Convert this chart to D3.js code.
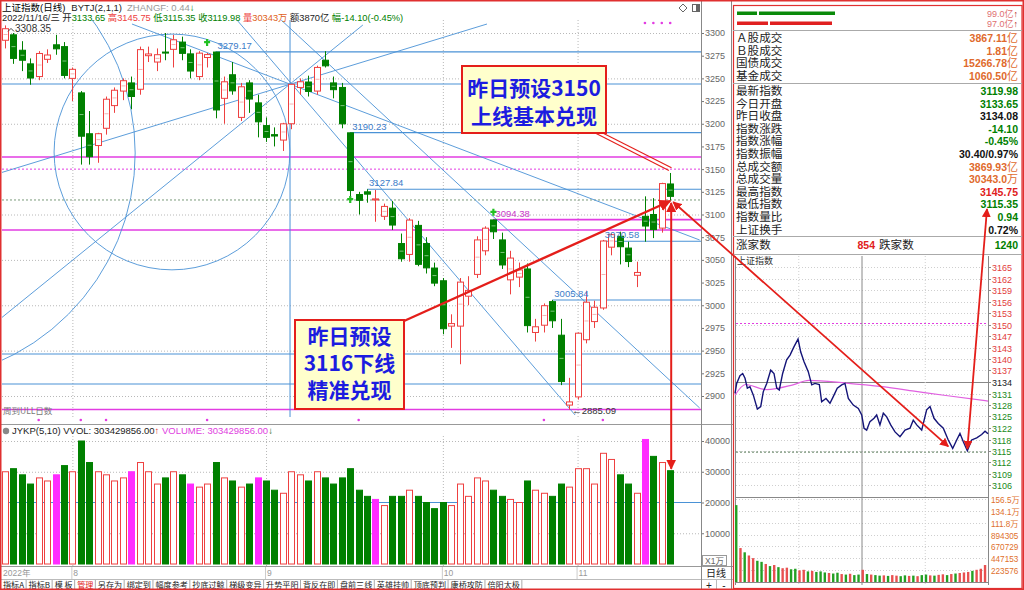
<!DOCTYPE html>
<html><head><meta charset="utf-8">
<script src="https://cdn.jsdelivr.net/npm/d3@7/dist/d3.min.js"></script>
<style>
html,body{margin:0;padding:0;background:#fff;overflow:hidden;}
svg{display:block;font-family:"Liberation Sans","Noto Sans CJK SC",sans-serif;}
</style></head><body>
<svg id="c" width="1024" height="590"></svg>
<script>
// ---------------- DATA ----------------
const dates = ["07-20","07-21","07-22","07-25","07-26","07-27","07-28","07-29",
"08-01","08-02","08-03","08-04","08-05","08-08","08-09","08-10","08-11","08-12","08-15","08-16","08-17","08-18","08-19","08-22","08-23","08-24","08-25","08-26","08-29","08-30","08-31",
"09-01","09-02","09-05","09-06","09-07","09-08","09-09","09-13","09-14","09-15","09-16","09-19","09-20","09-21","09-22","09-23","09-26","09-27","09-28","09-29","09-30",
"10-10","10-11","10-12","10-13","10-14","10-17","10-18","10-19","10-20","10-21","10-24","10-25","10-26","10-27","10-28","10-31",
"11-01","11-02","11-03","11-04","11-07","11-08","11-09","11-10","11-11","11-14","11-15","11-16"];
const opens = [3292,3298,3281,3266,3252,3271,3287,3285,
3250,3234,3189,3176,3195,3220,3236,3245,3238,3275,3268,3279,3282,3290,3277,3252,3273,3279,3228,3254,3207,3245,3223,
3198,3188,3182,3200,3240,3246,3236,3270,3245,3240,3190,3122,3125,3116,3098,3107,3068,3056,3088,3068,3041,
3027,2977,2977,3010,3034,3060,3094,3072,3028,3031,3040,2970,2978,3004,2967,2890,
2899,2962,2982,2997,3064,3076,3063,3033,3098,3100,3085,3133.65];
const highs = [3308.35,3300,3291,3272,3280,3282,3298,3290,
3262,3236,3214,3190,3230,3240,3250,3252,3285,3285,3283,3300,3298,3296,3282,3280,3278,3279.17,3252,3268,3245,3248,3232,
3207,3196,3201,3244,3250,3253,3264,3280,3252,3245,3190.23,3125,3127.84,3127,3112,3115,3079,3096,3093,3075,3047,
3030,2990,3030,3032,3076,3087,3094.38,3080,3060,3047,3046,2985,3002,3005.84,2985,2920,
2970,3016,3005,3072,3079,3081,3070,3048,3120,3118,3135,3145.75];
const lows = [3283,3266,3258,3243,3248,3267,3276,3250,
3225,3155,3155,3157,3188,3212,3226,3216,3232,3268,3258,3270,3262,3270,3250,3248,3262,3206,3200,3232,3203,3212,3185,
3180,3175,3170,3194,3232,3230,3232,3262,3228,3195,3120,3100,3113,3092,3094,3083,3048,3048,3043,3035,3021,
2968,2953,2935,3000,3030,3055,3073,3040,3012,3020,2970,2960,2970,2975,2912,2885.09,
2896,2958,2975,2995,3055,3045,3042,3020,3070,3074,3080,3115.35];
const closes = [3304.72,3272.00,3269.97,3250.39,3277.44,3275.76,3282.58,3253.24,
3259.96,3186.27,3163.67,3189.04,3227.03,3236.93,3247.43,3230.02,3281.67,3276.89,3276.09,3277.88,3292.53,3277.54,3258.08,3277.79,3276.22,3215.20,3246.25,3236.22,3240.73,3227.22,3202.14,
3184.98,3186.48,3199.91,3243.45,3246.29,3235.59,3262.05,3263.80,3237.54,3199.92,3126.40,3115.60,3122.41,3117.18,3108.91,3088.37,3051.23,3093.86,3045.07,3041.20,3024.39,
2974.15,2979.79,3025.51,3016.36,3071.99,3084.94,3080.96,3044.39,3052.00,3038.93,2977.56,2976.28,2999.50,2982.90,2915.93,2893.48,
2969.20,3003.37,2997.81,3070.80,3077.82,3064.49,3048.17,3036.13,3087.29,3083.40,3134.08,3119.98];
const volumes = [30000,31000,29000,26000,28000,27000,29000,32000,
30000,40000,33000,30000,29000,27000,28000,30000,33000,30000,26000,28000,30000,29000,26000,25000,26000,33000,28000,27000,25000,26000,28000,
27000,24000,23000,30000,29000,27000,30000,28000,26000,28000,31000,24000,22000,21000,19000,22000,22000,24000,22000,20000,18000,
20000,19000,26000,22000,28000,27000,24000,22000,21000,20000,27000,24000,23000,22000,26000,25000,
31000,31000,26000,36000,34000,29000,26000,23000,40500,35000,33000,30343];
const volSpecial = [6,15,22,30,44,76];           // magenta volume bars
const sigBottom = [4,9,12,24,42,64,71];          // pink signal dots under the chart
const sigTop = [76,77,78,79];
const priceTicks = [3300,3275,3250,3225,3200,3175,3150,3125,3100,3075,3050,3025,3000,2975,2950,2925,2900];
const gridTicks = [3300,3250,3200,3100,3050,3000,2950,2900];
const volTicks = [40000,30000,20000,10000];
const months = ["8","9","10","11"];
const monthStart = ["08-01","09-01","10-10","11-01"];
// drawn horizontal levels [start index, price]
const blueLevels = [[25,3279.17],[-1,3243.8],[41,3190.23],[43,3127.84],[71,3070.58],[65,3005.84],[-1,2946.3],[-1,2913.2]];
const magentaLevels = [[-1,3163.4],[58,3094.38],[-1,3082.9],[-1,2885.09]];
const presetUpper = 3150, presetLower = 3116;
// trend lines [i1,p1,i2,p2]
const trendLines = [[15.08,3309.9,82.5,3071.9],[-0.6,3145.7,57.24,3309.9],[-0.6,2984.8,42.5,3308.8],
                    [27.55,3314.3,67.7,2879.1],[32.8,3314.3,82.5,2886.8]];
const vLineIdx = 33.85;
const circles = [[19.83,3168.9,14.0],[-11.64,3167.8,27.1]]; // [idx, price, radius in bars]
const peakLabels = [[25,"3279.17",3279.17,"#3c7cc8"],[41,"3190.23",3190.23,"#3c7cc8"],[43,"3127.84",3127.84,"#3c7cc8"],
                    [58,"3094.38",3094.38,"#c838c8"],[71,"3070.58",3070.58,"#3c7cc8"],[65,"3005.84",3005.84,"#3c7cc8"]];
const greenMarks = [[24,3290],[41,3117],[58,3103]];
// right panel
const flowVals = ["99.0亿","97.0亿"];
const turnLabels = ["Ａ股成交","Ｂ股成交","国债成交","基金成交"];
const turnVals = ["3867.11","1.81","15266.78","1060.50"];
const tblLabels = ["最新指数","今日开盘","昨日收盘","指数涨跌","指数涨幅","指数振幅","总成交额","总成交量","最高指数","最低指数","指数量比","上证换手"];
const tblVals = ["3119.98","3133.65","3134.08","-14.10","-0.45%","30.40/0.97%","3869.93","30343.0","3145.75","3115.35","0.94","0.72%"];
const tblUnits = ["","","","","","","亿","万","","","",""];
const tblTone = ["g","g","k","g","g","k","o","o","r","g","g","k"];
const upCount = 854, downCount = 1240;
const prevClose = 3134.08;
const intraTickLabels = ["3165","3162","3159","3156","3153","3150","3147","3143","3140","3137","3134","3131","3128","3125","3122","3118","3115","3112","3109","3106"];
const intraVolLabels = ["156.5万","134.1万","111.8万","894305","670729","447153","223576"];
const intraMin = [0,1.6,4.7,7.3,9.5,11.7,14.2,17.4,21.2,24.4,26.8,30.1,33.9,37,39.6,42,45.2,49,52.2,56,59.8,62.3,65.5,69.5,72.8,75.9,80,82.2,86.3,90.1,93.2,97,101.2,104.3,107.5,112.2,117,120.2,122.4,124.9,128,131.9,134.4,137.5,140.7,143.9,147.7,151.8,156.5,161.3,166,169.1,172.4,177.1,181.8,185,188.8,192.8,197.6,202.3,206.5,210.3,213.4,216.6,220.4,224.5,229.3,234,237.2,240];
const intraPrice = [3131,3133.7,3135.8,3136.4,3135.1,3132.4,3132.8,3130.5,3126.7,3127.4,3131.4,3133.7,3137.3,3136.4,3132.4,3131.9,3136.4,3140.1,3141.4,3143.7,3145.75,3142.3,3139.6,3136.9,3133.3,3133.7,3133.4,3128.7,3129.6,3128.3,3130.1,3132.4,3133.3,3133.7,3129.6,3127.8,3126.9,3125.1,3121.5,3121,3123.3,3124.2,3125.1,3122.4,3125.6,3124.6,3122.4,3120.5,3119.2,3121,3121.5,3123.7,3122.4,3121,3126.5,3127.4,3124.2,3122.8,3121.5,3118.3,3116,3118.3,3120.1,3117.8,3115.35,3118.3,3118.9,3119.8,3120.7,3119.98];
const avgMin = [0,10,30,55,70,105,140,170,200,240];
const avgPrice = [3130.5,3133.4,3132.0,3133.3,3134.5,3133.8,3132.8,3131.6,3130.4,3128.9];
const intraVol = [1450000,640000,560000,500000,450000,400000,380000,340000,300000,320000,280000,260000,270000,240000,250000,220000,230000,200000,210000,190000,200000,180000,170000,160000,175000,150000,140000,155000,130000,140000,230000,150000,140000,130000,120000,125000,115000,130000,120000,110000,125000,115000,120000,110000,130000,140000,125000,120000,135000,145000,130000,150000,160000,170000,180000,190000,210000,230000,250000,320000];
const intraVolUp = [0,1,0,1,1,0,0,1,0,1,0,1,1,0,0,1,1,0,1,0,0,0,1,0,0,1,0,1,0,0,1,0,1,0,0,1,0,1,1,0,0,1,0,1,0,0,1,0,1,1,0,1,0,1,1,1,0,1,1,1];
const toolbar = ["指标A","指标B","模 板","管理","另存为","绑定到","幅度参考","抄底过鲸","梯级变异","升势平阳","背反在即","盘前三线","英雄挂帅","顶底预判","康桥攻防","倍阳太极"];

// ---------------- DRAW ----------------
const RED='#ee4040', GREEN='#008000', BLUE='#4a92d6', MAG='#e23ce2', ARED='#e41e1a';
const CJK='"Noto Sans CJK SC",sans-serif';
const svg=d3.select('#c');
const defs=svg.append('defs');
defs.append('clipPath').attr('id','mc').append('rect').attr('x',2).attr('y',20).attr('width',699).attr('height',397);
defs.append('clipPath').attr('id','vc').append('rect').attr('x',2).attr('y',436).attr('width',699).attr('height',130);
defs.append('marker').attr('id','arr').attr('viewBox','0 0 10 10').attr('refX',9).attr('refY',5)
  .attr('markerWidth',5).attr('markerHeight',5).attr('orient','auto-start-reverse')
  .append('path').attr('d','M0,0L10,5L0,10z').attr('fill',ARED);

const n=dates.length;
const x=d3.scaleLinear().domain([0,n-1]).range([5,670.2]);
const y=d3.scaleLinear().domain([2900,3300]).range([396,33]);
const vy=d3.scaleLinear().domain([0,40000]).range([564,441]);

svg.append('rect').attr('width',1024).attr('height',590).attr('fill','#fff');

// ---- main panel grid
const gm=svg.append('g').attr('clip-path','url(#mc)');
gm.selectAll('.gh').data(gridTicks).join('line').attr('x1',2).attr('x2',701)
  .attr('y1',d=>y(d)+0.5).attr('y2',d=>y(d)+0.5).attr('stroke','#b8b8b8').attr('stroke-dasharray','1,2');
const mIdx=monthStart.map(m=>dates.indexOf(m));
gm.selectAll('.gv').data(mIdx).join('line').attr('x1',d=>x(d)+0.5).attr('x2',d=>x(d)+0.5)
  .attr('y1',20).attr('y2',417).attr('stroke','#b8b8b8').attr('stroke-dasharray','1,2');

gm.append('line').attr('x1',2).attr('x2',701).attr('y1',y(presetUpper)).attr('y2',y(presetUpper))
  .attr('stroke',MAG).attr('stroke-dasharray','2,2');
gm.append('line').attr('x1',2).attr('x2',701).attr('y1',y(presetLower)).attr('y2',y(presetLower))
  .attr('stroke','#7a9a7a').attr('stroke-dasharray','2,2');

gm.selectAll('.bl').data(blueLevels).join('line').attr('x1',d=>d[0]<0?2:x(d[0])).attr('x2',701)
  .attr('y1',d=>y(d[1])).attr('y2',d=>y(d[1])).attr('stroke',BLUE).attr('stroke-width',1.1);
gm.selectAll('.ml').data(magentaLevels).join('line').attr('x1',d=>d[0]<0?2:x(d[0])).attr('x2',701)
  .attr('y1',d=>y(d[1])).attr('y2',d=>y(d[1])).attr('stroke',MAG).attr('stroke-width',1.6);

gm.selectAll('.tl').data(trendLines).join('line').attr('x1',d=>x(d[0])).attr('y1',d=>y(d[1]))
  .attr('x2',d=>x(d[2])).attr('y2',d=>y(d[3])).attr('stroke',BLUE).attr('stroke-width',0.9);
gm.append('line').attr('x1',x(vLineIdx)).attr('x2',x(vLineIdx)).attr('y1',20).attr('y2',417).attr('stroke',BLUE).attr('stroke-width',1);
const step=x(1)-x(0);
gm.selectAll('.ci').data(circles).join('circle').attr('cx',d=>x(d[0])).attr('cy',d=>y(d[1]))
  .attr('r',d=>d[2]*step).attr('fill','none').attr('stroke',BLUE).attr('stroke-width',0.9);

// candles
const cw=6;
const cg=gm.append('g');
dates.forEach((d,i)=>{
  const o=opens[i],c=closes[i],h=highs[i],l=lows[i];
  const up=c>=o, col=up?RED:GREEN, cx=Math.round(x(i))+0.5;
  cg.append('line').attr('x1',cx).attr('x2',cx).attr('y1',y(h)).attr('y2',y(l)).attr('stroke',col).attr('stroke-width',1);
  const top=y(Math.max(o,c)), bh=Math.max(1,Math.abs(y(o)-y(c)));
  cg.append('rect').attr('x',cx-cw/2).attr('y',top).attr('width',cw).attr('height',bh)
    .attr('fill',up?'#fff':GREEN).attr('stroke',col).attr('stroke-width',1);
  if(bh>6) cg.append('line').attr('x1',cx-2).attr('x2',cx+2).attr('y1',top+bh/2).attr('y2',top+bh/2)
    .attr('stroke',up?'#f6b4b4':'#7cc47c').attr('stroke-width',1);
});

// labels
const lg=svg.append('g').attr('font-size',9.5);
peakLabels.forEach(p=>{
  lg.append('text').attr('x',x(p[0])+2).attr('y',y(p[2])-3).attr('fill',p[3]).text(p[1]);
});
const hiIdx=highs.indexOf(d3.max(highs)), loIdx=lows.indexOf(d3.min(lows));
lg.append('path').attr('d',`M${x(hiIdx)+3},${y(highs[hiIdx])+6} l3,-3 l3,3`).attr('stroke','#444').attr('fill','none');
lg.append('text').attr('x',x(hiIdx)+10).attr('y',y(highs[hiIdx])+7).attr('fill','#333').attr('font-size',10).text(d3.format('.2f')(highs[hiIdx]));
lg.append('text').attr('x',x(loIdx)+3).attr('y',y(lows[loIdx])+4).attr('fill','#333').text('←'+d3.format('.2f')(lows[loIdx]));
greenMarks.forEach(m=>{
  const gx=x(m[0]), gy=y(m[1]);
  lg.append('path').attr('d',`M${gx-3},${gy} h6 M${gx},${gy-3} v7`).attr('stroke','#22c022').attr('stroke-width',2.2);
});
svg.selectAll('.sb').data(sigBottom).join('circle').attr('cx',d=>x(d)).attr('cy',420).attr('r',1.3).attr('fill',MAG);
svg.selectAll('.st').data(sigTop).join('circle').attr('cx',d=>x(d)).attr('cy',23).attr('r',1.3).attr('fill',MAG);
svg.append('text').attr('x',3).attr('y',414).attr('font-size',8.5).attr('fill','#777').attr('font-family',CJK).text('周到ULL日数');

svg.append('path').attr('d','M683,4 l4,4 l-4,4 l-4,-4z').attr('fill','none').attr('stroke','#666');
svg.append('rect').attr('x',692.5).attr('y',4.5).attr('width',7).attr('height',7).attr('fill','none').attr('stroke','#666');
svg.append('rect').attr('x',696).attr('y',5).attr('width',3).attr('height',6).attr('fill','#666');

const ax=svg.append('g').attr('transform','translate(701,0)')
  .call(d3.axisRight(y).tickValues(priceTicks).tickSize(3).tickFormat(d3.format('d')));
ax.select('.domain').remove();
ax.selectAll('line').attr('stroke','#777');
ax.selectAll('text').attr('fill','#666').attr('font-size',9).attr('x',4);

// ---- volume panel
const gv=svg.append('g').attr('clip-path','url(#vc)');
gv.selectAll('.vg').data([40000,30000,10000]).join('line').attr('x1',2).attr('x2',701)
  .attr('y1',d=>vy(d)+0.5).attr('y2',d=>vy(d)+0.5).attr('stroke','#b8b8b8').attr('stroke-dasharray','1,2');
gv.selectAll('.vv').data(mIdx).join('line').attr('x1',d=>x(d)+0.5).attr('x2',d=>x(d)+0.5)
  .attr('y1',436).attr('y2',566).attr('stroke','#b8b8b8').attr('stroke-dasharray','1,2');
gv.append('line').attr('x1',2).attr('x2',701).attr('y1',vy(20000)).attr('y2',vy(20000)).attr('stroke',BLUE).attr('stroke-width',1.1);
volumes.forEach((v,i)=>{
  const up=closes[i]>=opens[i], sp=volSpecial.includes(i), cx=Math.round(x(i))+0.5;
  gv.append('rect').attr('x',cx-cw/2).attr('y',vy(v)).attr('width',cw).attr('height',vy(0)-vy(v))
    .attr('fill',sp?'#ff2cff':(up?'#fff':GREEN)).attr('stroke',sp?'#ff2cff':(up?RED:GREEN)).attr('stroke-width',1);
});
const vax=svg.append('g').attr('transform','translate(701,0)')
  .call(d3.axisRight(vy).tickValues(volTicks).tickSize(3).tickFormat(d3.format('d')));
vax.select('.domain').remove();
vax.selectAll('line').attr('stroke','#777');
vax.selectAll('text').attr('fill','#666').attr('font-size',9).attr('x',4);
svg.append('rect').attr('x',702.5).attr('y',555.5).attr('width',24).attr('height',10).attr('fill','#fff').attr('stroke','#999');
svg.append('text').attr('x',705).attr('y',564).attr('font-size',8.5).attr('fill','#666').text('X1万');

const vh=svg.append('text').attr('x',3).attr('y',434).attr('font-size',9.5);
svg.append('circle').attr('cx',6).attr('cy',431).attr('r',3.2).attr('fill','#888');
vh.append('tspan').attr('x',12).attr('fill','#222').text('JYKP(5,10)  VVOL: 303429856.00');
vh.append('tspan').attr('fill',ARED).text('↑ ');
vh.append('tspan').attr('fill','#e040e0').text('VOLUME: 303429856.00');
vh.append('tspan').attr('fill','#226622').text('↓');

// ---- header
const h1=svg.append('text').attr('x',2).attr('y',11).attr('font-size',9.5);
h1.append('tspan').attr('fill','#000').text('上证指数(日线)');
h1.append('tspan').attr('dx',6).attr('fill','#222').text('BYTJ(2,1,1)');
h1.append('tspan').attr('dx',5).attr('fill','#999').text('ZHANGF: 0.44');
h1.append('tspan').attr('fill',GREEN).text('↓');
const h2=svg.append('text').attr('x',2).attr('y',21).attr('font-size',9.3);
[['2022/11/16/三','#222'],[' 开','#222'],['3133.65',GREEN],[' 高',RED],['3145.75',RED],[' 低',GREEN],['3115.35',GREEN],
 [' 收',GREEN],['3119.98',GREEN],[' 量',RED],['30343万','#e06020'],[' 额','#222'],['3870亿','#222'],[' 幅',GREEN],['-14.10(-0.45%)',GREEN]]
 .forEach(s=>h2.append('tspan').attr('fill',s[1]).text(s[0]));

// ---- frame & separators
svg.append('line').attr('x1',0).attr('x2',733).attr('y1',424.5).attr('y2',424.5).attr('stroke','#999');
svg.append('line').attr('x1',0).attr('x2',733).attr('y1',566.5).attr('y2',566.5).attr('stroke','#999');
svg.append('line').attr('x1',0).attr('x2',733).attr('y1',579.5).attr('y2',579.5).attr('stroke','#bbb');
svg.append('line').attr('x1',701.5).attr('x2',701.5).attr('y1',0).attr('y2',590).attr('stroke','#888');
svg.append('line').attr('x1',731.5).attr('x2',731.5).attr('y1',0).attr('y2',590).attr('stroke','#888');

svg.append('text').attr('x',3).attr('y',576).attr('font-size',8.5).attr('fill','#999').text('2022年');
mIdx.forEach((mi,k)=>{
  svg.append('line').attr('x1',x(mi)-0.5).attr('x2',x(mi)-0.5).attr('y1',567).attr('y2',579).attr('stroke','#ccc');
  svg.append('text').attr('x',x(mi)+1).attr('y',576).attr('font-size',8.5).attr('fill','#999').text(months[k]);
});
svg.append('text').attr('x',716).attr('y',577).attr('text-anchor','middle').attr('font-size',10).attr('fill','#222').attr('font-family',CJK).text('日线');
svg.append('text').attr('x',709).attr('y',589).attr('text-anchor','middle').attr('font-size',10).attr('fill','#222').text('+');
svg.append('text').attr('x',724).attr('y',589).attr('text-anchor','middle').attr('font-size',10).attr('fill','#222').text('-');
svg.append('line').attr('x1',716.5).attr('x2',716.5).attr('y1',580).attr('y2',590).attr('stroke','#bbb');

let tx=1;
toolbar.forEach((t,k)=>{
  const tt=svg.append('text').attr('x',tx+2).attr('y',588).attr('font-size',8.1).attr('font-family',CJK)
    .attr('fill',t==='管理'?'#e02020':'#222').text(t);
  const w=tt.node().getComputedTextLength();
  tx+=w+4.5;
  svg.append('line').attr('x1',tx-0.5).attr('x2',tx-0.5).attr('y1',580).attr('y2',590).attr('stroke','#aaa');
});

// ---- right panel
const RX=733;
svg.append('rect').attr('x',RX+0.5).attr('y',5.5).attr('width',288.5).attr('height',583).attr('fill','#fff').attr('stroke','#e03030').attr('stroke-width',1.2);
const fy=[13,23];
const bars=[[[737,757],[759,835],'#0a8a0a'],[[737,768],[770,832],'#e02020']];
bars.forEach((b,k)=>{
  [b[0],b[1]].forEach(s=>svg.append('rect').attr('x',s[0]).attr('y',fy[k]-1.5).attr('width',s[1]-s[0]).attr('height',3.5).attr('fill',b[2]));
  const t=svg.append('text').attr('x',1018).attr('y',fy[k]+3.5).attr('text-anchor','end').attr('font-size',9).attr('fill','#e07070');
  t.append('tspan').text(flowVals[k]); t.append('tspan').attr('fill','#b02020').attr('font-weight','bold').text('↑');
});
svg.append('line').attr('x1',RX).attr('x2',1022).attr('y1',30.5).attr('y2',30.5).attr('stroke','#aaa');
const toneCol={g:GREEN,k:'#111',o:'#e06a2c',r:'#e02020'};
const LF=11.6;
turnLabels.forEach((t,k)=>{
  const yy=38+k*12.7;
  svg.append('text').attr('x',736).attr('y',yy+4).attr('font-size',LF).attr('font-family',CJK).attr('fill','#222').text(t);
  const v=svg.append('text').attr('x',1018).attr('y',yy+4).attr('text-anchor','end').attr('fill',toneCol.o);
  v.append('tspan').attr('font-weight','bold').attr('font-size',10.5).text(turnVals[k]);
  v.append('tspan').attr('font-size',11).attr('font-family',CJK).text('亿');
});
svg.append('line').attr('x1',RX).attr('x2',1022).attr('y1',83.5).attr('y2',83.5).attr('stroke','#aaa');
tblLabels.forEach((t,k)=>{
  const yy=91+k*12.6;
  svg.append('text').attr('x',736).attr('y',yy+4).attr('font-size',LF).attr('font-family',CJK).attr('fill','#222').text(t);
  const v=svg.append('text').attr('x',1018).attr('y',yy+4).attr('text-anchor','end').attr('fill',toneCol[tblTone[k]]);
  v.append('tspan').attr('font-weight','bold').attr('font-size',10.5).text(tblVals[k]);
  if(tblUnits[k]) v.append('tspan').attr('font-size',11).attr('font-family',CJK).text(tblUnits[k]);
});
svg.append('line').attr('x1',RX).attr('x2',1022).attr('y1',236.5).attr('y2',236.5).attr('stroke','#aaa');
svg.append('text').attr('x',736).attr('y',249).attr('font-size',LF).attr('font-family',CJK).attr('fill','#222').text('涨家数');
svg.append('text').attr('x',875).attr('y',249).attr('text-anchor','end').attr('font-size',10.5).attr('font-weight','bold').attr('fill','#e02020').text(upCount);
svg.append('text').attr('x',879).attr('y',249).attr('font-size',LF).attr('font-family',CJK).attr('fill','#222').text('跌家数');
svg.append('text').attr('x',1018).attr('y',249).attr('text-anchor','end').attr('font-size',10.5).attr('font-weight','bold').attr('fill',GREEN).text(downCount);
svg.append('line').attr('x1',RX).attr('x2',1022).attr('y1',254.5).attr('y2',254.5).attr('stroke','#aaa');
svg.append('text').attr('x',737).attr('y',264).attr('font-size',9).attr('font-family',CJK).attr('fill','#333').text('上证指数');

// intraday chart
const xI=d3.scaleLinear().domain([0,240]).range([735,988]);
const stepP=3.13;
const yI=d3.scaleLinear().domain([prevClose-10*stepP,prevClose+10*stepP]).range([497,267]);
const yIV=d3.scaleLinear().domain([0,1565037]).range([582,499]);
const gi=svg.append('g');
gi.append('line').attr('x1',735.5).attr('x2',735.5).attr('y1',256).attr('y2',585).attr('stroke','#888');
gi.append('line').attr('x1',988.5).attr('x2',988.5).attr('y1',256).attr('y2',585).attr('stroke','#888');
intraTickLabels.forEach((t,k)=>{
  const val=prevClose+(10-k)*stepP, yy=Math.round(yI(val))+0.5;
  const isPC=k===10;
  gi.append('line').attr('x1',736).attr('x2',988).attr('y1',yy).attr('y2',yy)
    .attr('stroke',isPC?'#888':'#cfcfcf').attr('stroke-dasharray',isPC?null:'1,2');
  gi.append('line').attr('x1',988).attr('x2',991).attr('y1',yy).attr('y2',yy).attr('stroke','#888');
  gi.append('text').attr('x',992).attr('y',yy+3.5).attr('font-size',9)
    .attr('fill',isPC?'#222':(k<10?'#e23c3c':'#1a8a1a')).text(t);
});
gi.append('line').attr('x1',736).attr('x2',988).attr('y1',yI(presetUpper)).attr('y2',yI(presetUpper)).attr('stroke',MAG).attr('stroke-dasharray','2,2');
gi.append('line').attr('x1',736).attr('x2',988).attr('y1',yI(3115)).attr('y2',yI(3115)).attr('stroke','#557755').attr('stroke-dasharray','2,2');
gi.append('line').attr('x1',736).attr('x2',988).attr('y1',497.5).attr('y2',497.5).attr('stroke','#888');
intraVolLabels.forEach((t,k)=>{
  const yy=Math.round(yIV(1565037*(7-k)/7))+0.5;
  gi.append('line').attr('x1',736).attr('x2',988).attr('y1',yy).attr('y2',yy).attr('stroke','#cfcfcf').attr('stroke-dasharray','1,2');
  gi.append('text').attr('x',991).attr('y',yy+3.5).attr('font-size',8.2).attr('fill','#e0702c').text(t);
});
[60,180].forEach(m=>gi.append('line').attr('x1',xI(m)+0.5).attr('x2',xI(m)+0.5).attr('y1',256).attr('y2',585).attr('stroke','#cfcfcf').attr('stroke-dasharray','1,2'));
gi.append('line').attr('x1',xI(120)+0.5).attr('x2',xI(120)+0.5).attr('y1',256).attr('y2',585).attr('stroke','#888');
intraVol.forEach((v,k)=>{
  const m=k*4+1;
  gi.append('rect').attr('x',xI(m)-1).attr('y',yIV(v)).attr('width',2.4).attr('height',yIV(0)-yIV(v))
    .attr('fill',intraVolUp[k]?'#e85050':'#23a023');
});
gi.append('line').attr('x1',736).attr('x2',988).attr('y1',582.5).attr('y2',582.5).attr('stroke','#888');
gi.append('path').datum(avgMin.map((m,k)=>[m,avgPrice[k]]))
  .attr('d',d3.line().x(d=>xI(d[0])).y(d=>yI(d[1])).curve(d3.curveMonotoneX))
  .attr('fill','none').attr('stroke','#e060e0').attr('stroke-width',1.2);
gi.append('path').datum(intraMin.map((m,k)=>[m,intraPrice[k]]))
  .attr('d',d3.line().x(d=>xI(d[0])).y(d=>yI(d[1])))
  .attr('fill','none').attr('stroke','#141478').attr('stroke-width',1.4);

// ---- annotations
const an=svg.append('g');
const last=n-1;
const pLow=[x(last),y(presetLower)];
an.append('line').attr('x1',404).attr('y1',321).attr('x2',pLow[0]).attr('y2',pLow[1]+1)
  .attr('stroke',ARED).attr('stroke-width',2.4).attr('marker-end','url(#arr)');
[-1.3,1.3].forEach(o=>an.append('line').attr('x1',597+o).attr('y1',132-o).attr('x2',x(last)+o).attr('y2',y(presetUpper)-o)
  .attr('stroke',ARED).attr('stroke-width',1.1));
an.append('line').attr('x1',x(last)+1).attr('x2',x(last)+1).attr('y1',pLow[1]+3).attr('y2',vy(volumes[last])-2)
  .attr('stroke',ARED).attr('stroke-width',2).attr('marker-start','url(#arr)').attr('marker-end','url(#arr)');
const iLow1=[xI(202.3),yI(3116)], iLow2=[xI(220.4),yI(3115.35)];
an.append('line').attr('x1',pLow[0]+3).attr('y1',pLow[1]+2).attr('x2',iLow1[0]).attr('y2',iLow1[1]-2)
  .attr('stroke',ARED).attr('stroke-width',1.8).attr('marker-start','url(#arr)').attr('marker-end','url(#arr)');
an.append('line').attr('x1',iLow2[0]).attr('y1',iLow2[1]-2).attr('x2',987).attr('y2',209)
  .attr('stroke',ARED).attr('stroke-width',1.8).attr('marker-start','url(#arr)').attr('marker-end','url(#arr)');

function box(bx,by,bw,bh,lines,ly){
  an.append('rect').attr('x',bx).attr('y',by).attr('width',bw).attr('height',bh).attr('fill','#ffffcc').attr('stroke',ARED).attr('stroke-width',2);
  lines.forEach((t,k)=>an.append('text').attr('x',bx+bw/2).attr('y',ly[k]).attr('text-anchor','middle')
    .attr('font-family',CJK).attr('font-weight','bold').attr('font-size',21).attr('fill','#1c1ce0').text(t));
}
box(462,66,144,67,['昨日预设3150','上线基本兑现'],[96,124]);
box(295,320,109,89,['昨日预设','3116下线','精准兑现'],[344,371,398]);

svg.append('rect').attr('x',0.75).attr('y',0.75).attr('width',1022.5).attr('height',588.5).attr('fill','none').attr('stroke','#e03030').attr('stroke-width',1.5);
</script>
</body></html>
